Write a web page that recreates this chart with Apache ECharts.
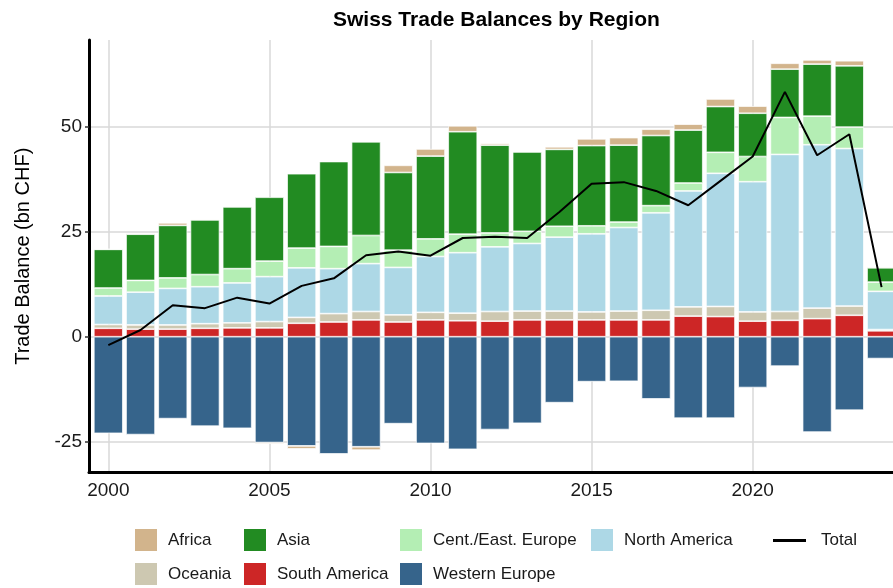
<!DOCTYPE html>
<html>
<head>
<meta charset="utf-8">
<script src="https://cdn.jsdelivr.net/npm/echarts@6/dist/echarts.min.js"></script>
<style>
  html, body { margin: 0; padding: 0; background: #ffffff; }
  #chart { width: 893px; height: 588px; }
</style>
</head>
<body>
<div id="chart"></div>
<script>
// ---- data (bn CHF) ----
const years = [2000, 2001, 2002, 2003, 2004, 2005, 2006, 2007, 2008, 2009, 2010, 2011, 2012,
               2013, 2014, 2015, 2016, 2017, 2018, 2019, 2020, 2021, 2022, 2023, 2024];
const africa        = [0.1, 0.2, 0.6, 0.2, 0.2, -0.3, -0.7, 0.1, -0.8, 1.7, 1.7, 1.4, 0.4,
                       0.1, 0.6, 1.6, 1.8, 1.5, 1.4, 1.8, 1.7, 1.4, 1.0, 1.2, 0.25];
const asia          = [9.2, 11.0, 12.5, 13.0, 14.7, 15.2, 17.7, 20.2, 22.3, 18.5, 19.7, 24.4, 20.9,
                       18.9, 18.3, 19.1, 18.3, 16.7, 12.6, 10.9, 10.3, 11.5, 12.4, 14.6, 3.4];
const centEastEurope= [1.9, 2.8, 2.5, 2.9, 3.4, 3.7, 4.7, 5.3, 6.7, 4.1, 4.2, 4.4, 3.3,
                       2.9, 2.6, 1.9, 1.3, 1.7, 1.9, 5.0, 6.0, 8.8, 6.8, 5.1, 2.2];
const northAmerica  = [6.8, 7.8, 8.7, 8.8, 9.5, 10.7, 11.8, 10.7, 11.4, 11.3, 13.3, 14.4, 15.4,
                       16.1, 17.6, 18.6, 19.9, 23.2, 27.6, 31.7, 31.0, 37.4, 38.9, 37.5, 9.1];
const oceania       = [0.9, 1.0, 1.0, 1.1, 1.2, 1.5, 1.4, 2.0, 2.0, 1.7, 1.8, 1.8, 2.3,
                       2.1, 2.1, 1.9, 2.1, 2.3, 2.2, 2.4, 2.2, 2.1, 2.5, 2.2, 0.3];
const southAmerica  = [2.0, 1.8, 1.8, 2.0, 2.1, 2.1, 3.2, 3.5, 4.0, 3.5, 4.0, 3.8, 3.7,
                       4.0, 4.0, 4.0, 4.0, 4.0, 4.9, 4.8, 3.7, 3.9, 4.3, 5.1, 1.4];
const westernEurope = [-23.0, -23.3, -19.5, -21.3, -21.8, -25.2, -26.0, -27.9, -26.2, -20.7, -25.4, -26.8, -22.1,
                       -20.6, -15.7, -10.7, -10.6, -14.8, -19.4, -19.4, -12.1, -7.0, -22.7, -17.5, -5.2];
const total         = [-2.0, 1.6, 7.5, 6.8, 9.3, 7.9, 12.1, 13.9, 19.4, 20.3, 19.3, 23.5, 23.8,
                       23.5, 29.7, 36.4, 36.8, 34.7, 31.3, 37.1, 42.9, 58.3, 43.2, 48.2, 11.8];
const yTicks = [-25, 0, 25, 50];
const xTickStep = 5;

// ---- styling ----
const FONT = 'Liberation Sans, Arial, Helvetica, sans-serif';
const colors = {
  'Africa': '#D2B48C',
  'Asia': '#228B22',
  'Cent./East. Europe': '#B4EEB4',
  'North America': '#ADD8E6',
  'Oceania': '#CDC8B1',
  'South America': '#CD2626',
  'Western Europe': '#36648B'
};
// value first so that the stacked dimension is the value, year second
const pair = arr => arr.map((v, i) => [v, years[i]]);

// stacking order: first series sits next to zero (same-sign stacking)
const barSeries = [
  ['Western Europe', westernEurope],
  ['South America', southAmerica],
  ['Oceania', oceania],
  ['North America', northAmerica],
  ['Cent./East. Europe', centEastEurope],
  ['Asia', asia],
  ['Africa', africa]
].map(([name, arr]) => ({
  name: name,
  type: 'bar',
  stack: 'regions',
  barWidth: 29,
  data: pair(arr),
  encode: { x: 1, y: 0 },
  itemStyle: { color: colors[name], borderColor: '#ffffff', borderWidth: 0.7 },
  emphasis: { disabled: true }
}));

const Y_MIN = -32.33, Y_MAX = 70.64;
const X_MIN = 1999.40, X_MAX = 2024.355;
const GRID_C = '#d9d9d9';
const legendText = { fontFamily: FONT, fontSize: 17, color: '#1a1a1a', padding: [0, 0, 0, 6] };
const boxLegend = (left, names) => ({
  orient: 'vertical', top: 529, left: left, itemWidth: 22, itemHeight: 22, itemGap: 12, padding: 0,
  icon: 'rect', selectedMode: false,
  itemStyle: { borderWidth: 0 },
  textStyle: legendText,
  data: names
});

const option = {
  animation: false,
  backgroundColor: '#ffffff',
  title: {
    text: 'Swiss Trade Balances by Region',
    left: 328, top: 5,
    textStyle: { fontFamily: FONT, fontSize: 21, fontWeight: 'bold', color: '#000000' }
  },
  legend: [
    boxLegend(135, ['Africa', 'Oceania']),
    boxLegend(244, ['Asia', 'South America']),
    boxLegend(400, ['Cent./East. Europe', 'Western Europe']),
    boxLegend(591, ['North America']),
    {
      orient: 'vertical', left: 773, top: 532, itemWidth: 33, itemHeight: 3, padding: 0,
      icon: 'rect', selectedMode: false,
      itemStyle: { color: '#000000', borderWidth: 0 },
      textStyle: { fontFamily: FONT, fontSize: 17, color: '#1a1a1a', padding: [0, 0, 0, 10] },
      data: ['Total']
    }
  ],
  grid: { left: 89, right: 0, top: 40, bottom: 115.5, containLabel: false },
  xAxis: {
    type: 'value',
    min: X_MIN, max: X_MAX,
    minInterval: xTickStep, maxInterval: xTickStep,
    axisLine: { show: true, onZero: false, lineStyle: { color: '#000000', width: 3 } },
    axisTick: { show: false },
    axisLabel: {
      margin: 9, fontFamily: FONT, fontSize: 19, color: '#1a1a1a',
      formatter: v => (Math.abs(v - Math.round(v / xTickStep) * xTickStep) < 1e-6 ? String(Math.round(v)) : ''),
      showMinLabel: false, showMaxLabel: false
    },
    splitLine: { show: true, lineStyle: { color: ['rgba(0,0,0,0)', GRID_C, GRID_C, GRID_C, GRID_C, GRID_C, 'rgba(0,0,0,0)'], width: 1.5 } }
  },
  yAxis: {
    type: 'value',
    min: Y_MIN, max: Y_MAX,
    minInterval: 25, maxInterval: 25,
    name: 'Trade Balance (bn CHF)',
    nameLocation: 'middle', nameGap: 56,
    nameTextStyle: { fontFamily: FONT, fontSize: 20, color: '#000000' },
    axisLine: { show: true, onZero: false, lineStyle: { color: '#000000', width: 3 } },
    axisTick: { show: true, length: 4, lineStyle: { color: '#333333', width: 1.5 } },
    axisLabel: {
      margin: 7, fontFamily: FONT, fontSize: 19, color: '#1a1a1a',
      formatter: v => (yTicks.indexOf(Math.round(v * 1000) / 1000) >= 0 ? String(Math.round(v)) : ''),
      showMinLabel: false, showMaxLabel: false
    },
    splitLine: { show: true, lineStyle: { color: ['rgba(0,0,0,0)', GRID_C, GRID_C, GRID_C, GRID_C, 'rgba(0,0,0,0)'], width: 1.5 } }
  },
  series: barSeries.concat([{
    name: 'Total',
    type: 'line',
    data: pair(total),
    encode: { x: 1, y: 0 },
    symbol: 'none',
    lineStyle: { color: '#000000', width: 2 },
    itemStyle: { color: '#000000' },
    z: 5,
    emphasis: { disabled: true }
  }])
};

const chart = echarts.init(document.getElementById('chart'), null, { renderer: 'canvas' });
chart.setOption(option);
</script>
</body>
</html>
